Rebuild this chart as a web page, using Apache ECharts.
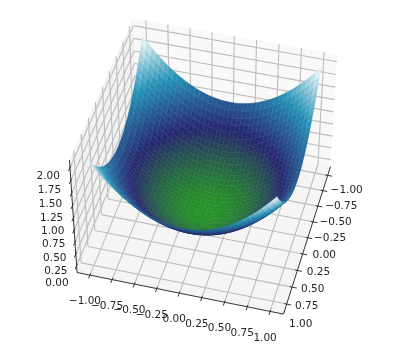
<!DOCTYPE html>
<html><head><meta charset="utf-8">
<style>html,body{margin:0;padding:0;background:#fff}#c{width:420px;height:359px}</style>
<script src="https://cdn.jsdelivr.net/npm/echarts@6/dist/echarts.min.js"></script>
</head><body><div id="c"></div>
<script>
// axis ticks
const xTicks=[-1,-0.75,-0.5,-0.25,0,0.25,0.5,0.75,1];
const yTicks=[-1,-0.75,-0.5,-0.25,0,0.25,0.5,0.75,1];
const zTicks=[0,0.25,0.5,0.75,1,1.25,1.5,1.75,2];
const xyLabels=['\u22121.00','\u22120.75','\u22120.50','\u22120.25','0.00','0.25','0.50','0.75','1.00'];
const zLabels=['0.00','0.25','0.50','0.75','1.00','1.25','1.50','1.75','2.00'];
// surface heights read for one quadrant (0..1 x 0..1, step 0.05); the bowl is mirror-symmetric
const quadStep=[0,0.05,0.1,0.15,0.2,0.25,0.3,0.35,0.4,0.45,0.5,0.55,0.6,0.65,0.7,0.75,0.8,0.85,0.9,0.95,1];
const quadZ=[
[0,.003,.010,.023,.040,.063,.090,.123,.160,.203,.250,.303,.360,.423,.490,.563,.640,.723,.810,.903,1],
[.003,.005,.013,.025,.043,.065,.093,.125,.163,.205,.253,.305,.363,.425,.493,.565,.643,.725,.813,.905,1.003],
[.010,.013,.020,.033,.050,.073,.100,.133,.170,.213,.260,.313,.370,.433,.500,.573,.650,.733,.820,.913,1.010],
[.023,.025,.033,.045,.063,.085,.113,.145,.183,.225,.273,.325,.383,.445,.513,.585,.663,.745,.833,.925,1.023],
[.040,.043,.050,.063,.080,.103,.130,.163,.200,.243,.290,.343,.400,.463,.530,.603,.680,.763,.850,.943,1.040],
[.063,.065,.073,.085,.103,.125,.153,.185,.223,.265,.313,.365,.423,.485,.553,.625,.703,.785,.873,.965,1.063],
[.090,.093,.100,.113,.130,.153,.180,.213,.250,.293,.340,.393,.450,.513,.580,.653,.730,.813,.900,.993,1.090],
[.123,.125,.133,.145,.163,.185,.213,.245,.283,.325,.373,.425,.483,.545,.613,.685,.763,.845,.933,1.025,1.123],
[.160,.163,.170,.183,.200,.223,.250,.283,.320,.363,.410,.463,.520,.583,.650,.723,.800,.883,.970,1.063,1.160],
[.203,.205,.213,.225,.243,.265,.293,.325,.363,.405,.453,.505,.563,.625,.693,.765,.843,.925,1.013,1.105,1.203],
[.250,.253,.260,.273,.290,.313,.340,.373,.410,.453,.500,.553,.610,.673,.740,.813,.890,.973,1.060,1.153,1.250],
[.303,.305,.313,.325,.343,.365,.393,.425,.463,.505,.553,.605,.663,.725,.793,.865,.943,1.025,1.113,1.205,1.303],
[.360,.363,.370,.383,.400,.423,.450,.483,.520,.563,.610,.663,.720,.783,.850,.923,1.000,1.083,1.170,1.263,1.360],
[.423,.425,.433,.445,.463,.485,.513,.545,.583,.625,.673,.725,.783,.845,.913,.985,1.063,1.145,1.233,1.325,1.423],
[.490,.493,.500,.513,.530,.553,.580,.613,.650,.693,.740,.793,.850,.913,.980,1.053,1.130,1.213,1.300,1.393,1.490],
[.563,.565,.573,.585,.603,.625,.653,.685,.723,.765,.813,.865,.923,.985,1.053,1.125,1.203,1.285,1.373,1.465,1.563],
[.640,.643,.650,.663,.680,.703,.730,.763,.800,.843,.890,.943,1.000,1.063,1.130,1.203,1.280,1.363,1.450,1.543,1.640],
[.723,.725,.733,.745,.763,.785,.813,.845,.883,.925,.973,1.025,1.083,1.145,1.213,1.285,1.363,1.445,1.533,1.625,1.723],
[.810,.813,.820,.833,.850,.873,.900,.933,.970,1.013,1.060,1.113,1.170,1.233,1.300,1.373,1.450,1.533,1.620,1.713,1.810],
[.903,.905,.913,.925,.943,.965,.993,1.025,1.063,1.105,1.153,1.205,1.263,1.325,1.393,1.465,1.543,1.625,1.713,1.805,1.903],
[1,1.003,1.010,1.023,1.040,1.063,1.090,1.123,1.160,1.203,1.250,1.303,1.360,1.423,1.490,1.563,1.640,1.723,1.810,1.903,2]
];
const N=quadStep.length;
const gridPos=[...quadStep.slice(1).reverse().map(v=>-v),...quadStep];
const zAt=(i,j)=>quadZ[Math.abs(i-(N-1))][Math.abs(j-(N-1))];

// camera of the 3D box (data -> screen pixel units, then through the hidden cartesian axes)
const M=1.1458,ZL=-.1458,ZH=2.1458;
const elev=45*Math.PI/180,azim=15*Math.PI/180,dist=10,zScale=.75;
const cx=206.99,sx=2040.4,cy=163.54,sy=-2034.1;
const n=[Math.cos(elev)*Math.cos(azim),Math.cos(elev)*Math.sin(azim),Math.sin(elev)];
const ul=Math.hypot(n[0],n[1]);
const u=[-n[1]/ul,n[0]/ul,0];
const v=[n[1]*u[2]-n[2]*u[1],n[2]*u[0]-n[0]*u[2],n[0]*u[1]-n[1]*u[0]];
const dot=(s,t)=>s[0]*t[0]+s[1]*t[1]+s[2]*t[2];
function proj(x,y,z){const q=[x/2.2-dist*n[0],y/2.2-dist*n[1],(z-1)/2.2*zScale-dist*n[2]];const w=-dot(n,q);return [cx+sx*dot(u,q)/w,cy+sy*dot(v,q)/w,w];}

// colour: ocean map, lightened as the reference's facet seams lighten it
function ocean(t){const c=v=>{const m=Math.min(1,Math.max(0,v));return Math.round(255*(m*.85+.15));};return `rgb(${c(3*t-2)},${c(Math.abs(1.5*t-.5))},${c(t)})`;}
// geometry
const lo=-M,hi=M,zlo=ZL,zhi=ZH;
const panes=[
 {c:'#f5f5f5',p:[[lo,lo,zlo],[hi,lo,zlo],[hi,hi,zlo],[lo,hi,zlo]]},
 {c:'#f9f9f9',p:[[lo,lo,zlo],[lo,hi,zlo],[lo,hi,zhi],[lo,lo,zhi]]},
 {c:'#f2f2f2',p:[[lo,lo,zlo],[hi,lo,zlo],[hi,lo,zhi],[lo,lo,zhi]]}];
const gridLines=[];
xTicks.forEach(t=>{gridLines.push([[t,lo,zlo],[t,hi,zlo]],[[t,lo,zlo],[t,lo,zhi]]);});
yTicks.forEach(t=>{gridLines.push([[lo,t,zlo],[hi,t,zlo]],[[lo,t,zlo],[lo,t,zhi]]);});
zTicks.forEach(t=>{gridLines.push([[lo,lo,t],[lo,hi,t]],[[lo,lo,t],[hi,lo,t]]);});
const axisLines=[[[lo,hi,zlo],[hi,hi,zlo]],[[hi,lo,zlo],[hi,hi,zlo]],[[hi,lo,zlo],[hi,lo,zhi]]];
const tk=.05;
xTicks.forEach(t=>axisLines.push([[t,hi-tk/2,zlo],[t,hi+tk,zlo]]));
yTicks.forEach(t=>axisLines.push([[hi-tk/2,t,zlo],[hi+tk,t,zlo]]));
zTicks.forEach(t=>axisLines.push([[hi-tk/2,lo,t],[hi+tk,lo,t]]));
const labels=[];
xTicks.forEach((t,i)=>{const q=proj(t,hi,zlo);labels.push({s:xyLabels[i],x:q[0]+19-5*i/8,y:q[1]+15+5*i/8,a:'center'});});
yTicks.forEach((t,i)=>{const q=proj(hi,t,zlo);labels.push({s:xyLabels[i],x:q[0]-5,y:q[1]+26.5,a:'center'});});
zTicks.forEach((t,i)=>{const q=proj(hi,lo,t);labels.push({s:zLabels[i],x:q[0]-8-2*i/8,y:q[1]+18-9*i/8,a:'right'});});
const facets=[];
for(let i=0;i<2*N-2;i++)for(let j=0;j<2*N-2;j++){
 const c=[[i,j],[i+1,j],[i+1,j+1],[i,j+1]];
 const zs=c.map(k=>zAt(k[0],k[1]));
 const p=c.map((k,m)=>proj(gridPos[k[0]],gridPos[k[1]],zs[m]));
 facets.push({p,d:p.reduce((s,q)=>s+q[2],0)/4,z:zs.reduce((s,w)=>s+w,0)/4});
}
facets.sort((f,g)=>g.d-f.d);
const seg=a=>a.map(w=>proj(w[0],w[1],w[2]));
function polySeries(items,z,styleOf){return {type:'custom',coordinateSystem:'cartesian2d',silent:true,clip:false,z,progressive:0,animation:false,
 data:items.map((_, i)=>[i]),encode:{x:0,y:0},renderItem:(params,api)=>styleOf(items[params.dataIndex],api)};}
const lineEl=(l,api,stroke,lineWidth)=>{const s=seg(l).map(q=>api.coord([q[0],q[1]]));return {type:'line',shape:{x1:s[0][0],y1:s[0][1],x2:s[1][0],y2:s[1][1]},style:{stroke,lineWidth}};};
const chart=echarts.init(document.getElementById('c'));
chart.setOption({animation:false,
 grid:{left:0,right:0,top:0,bottom:0},
 xAxis:{type:'value',min:0,max:420,show:false},
 yAxis:{type:'value',min:0,max:359,inverse:true,show:false},
 series:[
  polySeries(panes,1,(f,api)=>({type:'polygon',shape:{points:seg(f.p).map(q=>api.coord([q[0],q[1]]))},style:{fill:f.c}})),
  polySeries(gridLines,2,(l,api)=>lineEl(l,api,'#bdbdbd',1.1)),
  polySeries(axisLines,3,(l,api)=>lineEl(l,api,'#333',1)),
  polySeries(labels,4,(l,api)=>{const q=api.coord([l.x,l.y]);return {type:'text',x:q[0],y:q[1],style:{text:l.s,align:l.a,verticalAlign:'middle',font:'10.5px "DejaVu Sans"',fill:'#262626'}};}),
  polySeries(facets,5,(f,api)=>{const col=ocean(f.z/2);return {type:'polygon',shape:{points:f.p.map(q=>api.coord([q[0],q[1]]))},style:{fill:col,stroke:col,lineWidth:.4}};})
 ]});
</script></body></html>
